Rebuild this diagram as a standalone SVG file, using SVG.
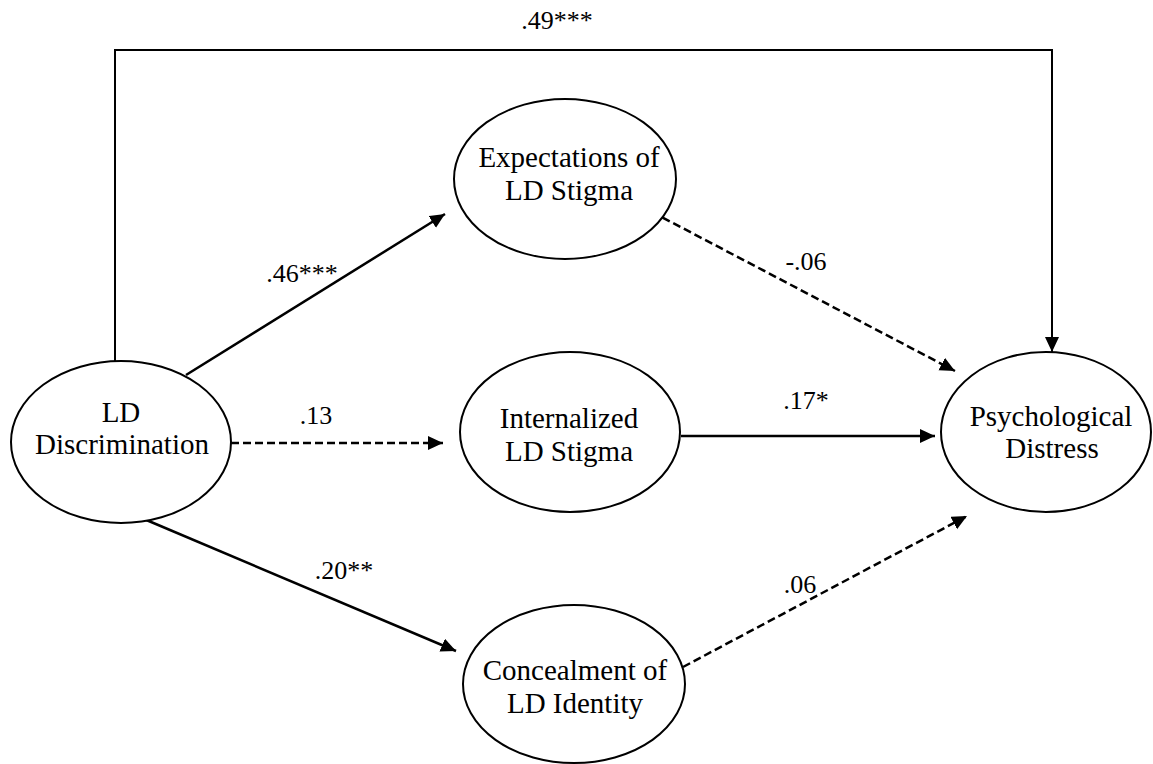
<svg xmlns="http://www.w3.org/2000/svg" width="1153" height="764" viewBox="0 0 1153 764">
<style>
.node ellipse{fill:#fff;stroke:#000;stroke-width:2}
text{font-family:'Liberation Serif','Times New Roman',Times,serif;fill:#000;text-anchor:middle}
.name{font-size:29px}
.lbl{font-size:26px}
.c{fill:none;stroke:#000;stroke-width:2.5}
.d{stroke-dasharray:8 4}
</style>
<defs>
<marker id="ah" markerUnits="userSpaceOnUse" markerWidth="16" markerHeight="16" refX="15" refY="7" orient="auto">
<path d="M0,0 L15,7 L0,14 z" fill="#000"/>
</marker>
</defs>
<rect width="1153" height="764" fill="#fff"/>
<g id="connectors">
<path class="c" style="stroke-width:2" d="M115,362 V50 H1052 V352" marker-end="url(#ah)"/>
<line class="c" x1="186" y1="375" x2="445" y2="214" marker-end="url(#ah)"/>
<line class="c d" x1="231" y1="443" x2="443" y2="443" marker-end="url(#ah)"/>
<line class="c" x1="144" y1="519" x2="456" y2="651" marker-end="url(#ah)"/>
<line class="c d" x1="652" y1="212" x2="955" y2="371" marker-end="url(#ah)"/>
<line class="c" x1="681" y1="436" x2="935" y2="436" marker-end="url(#ah)"/>
<line class="c d" x1="683" y1="667" x2="967" y2="516" marker-end="url(#ah)"/>
<text class="lbl" x="557" y="29">.49***</text>
<text class="lbl" x="302" y="282">.46***</text>
<text class="lbl" x="316" y="424">.13</text>
<text class="lbl" x="344" y="579">.20**</text>
<text class="lbl" x="806" y="270">-.06</text>
<text class="lbl" x="806" y="409">.17*</text>
<text class="lbl" x="800" y="593">.06</text>
</g>
<g id="ld-discrimination" class="node">
<ellipse cx="121" cy="442" rx="110" ry="81"/>
<text class="name" x="121" y="422">LD</text>
<text class="name" x="122" y="454">Discrimination</text>
</g>
<g id="expectations" class="node">
<ellipse cx="565" cy="179" rx="111" ry="80"/>
<text class="name" x="569" y="167">Expectations of</text>
<text class="name" x="569" y="200">LD Stigma</text>
</g>
<g id="internalized" class="node">
<ellipse cx="570" cy="432" rx="110" ry="80"/>
<text class="name" x="569" y="428">Internalized</text>
<text class="name" x="569" y="461">LD Stigma</text>
</g>
<g id="concealment" class="node">
<ellipse cx="574" cy="684" rx="111" ry="79"/>
<text class="name" x="575" y="680">Concealment of</text>
<text class="name" x="575" y="713">LD Identity</text>
</g>
<g id="psychological-distress" class="node">
<ellipse cx="1046" cy="432" rx="105" ry="80"/>
<text class="name" x="1051" y="426">Psychological</text>
<text class="name" x="1052" y="458">Distress</text>
</g>
</svg>
